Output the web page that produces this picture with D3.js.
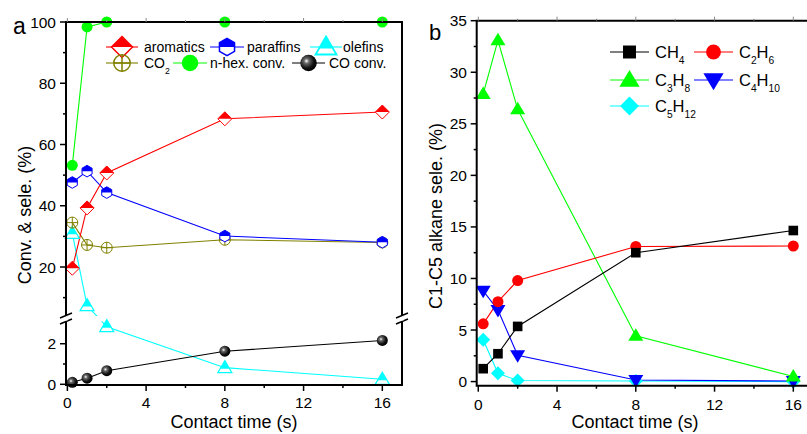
<!DOCTYPE html>
<html>
<head>
<meta charset="utf-8">
<script src="https://cdn.jsdelivr.net/npm/d3@7"></script>
<style>
  body { margin: 0; background: #fff; }
  text { font-family: "Liberation Sans", Arial, sans-serif; fill: #000; }
</style>
</head>
<body>
<div id="chart"></div>
<script>
// contact times (s)
var times = [0.25, 1, 2, 8, 16]

// panel a
var aromatics = [19.6, 39.3, 50.7, 68.4, 70.6]
var paraffins = [47.6, 51.3, 44.3, 30.1, 28.1]
var olefins = [31.0, 7.4, 2.84, 0.82, 0.25]
var co2 = [34.5, 27.2, 26.3, 28.9, 28.0]
var nhexConv = [53.2, 98.4, 100, 100, 100]
var coConv = [0.1, 0.3, 0.67, 1.63, 2.16]

// panel b
var ch4 = [1.25, 2.7, 5.35, 12.5, 14.65]
var c2h6 = [5.6, 7.75, 9.8, 13.1, 13.15]
var c3h8 = [27.9, 33.1, 26.4, 4.45, 0.5]
var c4h10 = [8.8, 6.95, 2.55, 0.15, 0.05]
var c5h12 = [4.05, 0.8, 0.1, 0.05, 0.0]

var xTicks = [0, 4, 8, 12, 16]
var xMinor = [2, 6, 10, 14]
var yUpTicks = [20, 40, 60, 80, 100]
var yUpMinor = [10, 30, 50, 70, 90]
var yLowTicks = [0, 2]
var yLowMinor = [1]
var yBTicks = [0, 5, 10, 15, 20, 25, 30, 35]
var yBMinor = [2.5, 7.5, 12.5, 17.5, 22.5, 27.5, 32.5]

var W = 807, H = 434

var svg = d3.select('#chart').append('svg')
    .attr('width', W)
    .attr('height', H)

var defs = svg.append('defs')
var grad = defs.append('radialGradient').attr('id', 'sphere')
    .attr('cx', '38%').attr('cy', '38%').attr('r', '62%')
grad.append('stop').attr('offset', '0%').attr('stop-color', '#ffffff')
grad.append('stop').attr('offset', '25%').attr('stop-color', '#666666')
grad.append('stop').attr('offset', '70%').attr('stop-color', '#111111')
grad.append('stop').attr('offset', '100%').attr('stop-color', '#000000')

// draws one symbol centered on 0,0 in group g
function marker(g, type, color) {
  var r, c
  if (type == 'diamondHalf') {
    r = 7
    g.append('path').attr('d', 'M0,' + (-r) + 'L' + r + ',0L0,' + r + 'L' + (-r) + ',0Z')
      .attr('fill', '#fff').attr('stroke', color).attr('stroke-width', 1)
    g.append('path').attr('d', 'M0,' + (-r) + 'L' + r + ',0L' + (-r) + ',0Z').attr('fill', color)
  } else if (type == 'hexHalf') {
    r = 5.8; c = r * Math.cos(Math.PI / 6)
    var pts = d3.range(6).map(function(i){ var a = -Math.PI / 2 + i * Math.PI / 3; return [r * Math.cos(a), r * Math.sin(a)] })
    g.append('path').attr('d', 'M' + pts.join('L') + 'Z')
      .attr('fill', '#fff').attr('stroke', color).attr('stroke-width', 1)
    g.append('path').attr('d', 'M0,' + (-r) + 'L' + c + ',' + (-r / 2) + 'L' + c + ',0L' + (-c) + ',0L' + (-c) + ',' + (-r / 2) + 'Z')
      .attr('fill', color)
  } else if (type == 'triHalf') {
    g.append('path').attr('d', 'M0,-7L7,5L-7,5Z')
      .attr('fill', '#fff').attr('stroke', color).attr('stroke-width', 1.2)
    g.append('path').attr('d', 'M0,-7L4.7,1L-4.7,1Z').attr('fill', color)
  } else if (type == 'circlePlus') {
    r = 5.5
    g.append('circle').attr('r', r).attr('fill', 'none').attr('stroke', color)
    g.append('path').attr('d', 'M' + (-r) + ',0H' + r + 'M0,' + (-r) + 'V' + r).attr('stroke', color)
  } else if (type == 'circle') {
    g.append('circle').attr('r', 5.5).attr('fill', color)
  } else if (type == 'sphere') {
    g.append('circle').attr('r', 5.5).attr('fill', 'url(#sphere)')
  } else if (type == 'square') {
    g.append('rect').attr('x', -4.8).attr('y', -4.8).attr('width', 9.6).attr('height', 9.6).attr('fill', color)
  } else if (type == 'triUp') {
    g.append('path').attr('d', 'M0,-7.5L7.5,5L-7.5,5Z').attr('fill', color)
  } else if (type == 'triDown') {
    g.append('path').attr('d', 'M0,7.5L7.5,-5L-7.5,-5Z').attr('fill', color)
  } else if (type == 'diamond') {
    g.append('path').attr('d', 'M0,-7L7,0L0,7L-7,0Z').attr('fill', color)
  }
}

// text with "_12" style subscripts
function richText(t, str, size) {
  var parts = str.split(/_(\d+)/)
  parts.forEach(function(p, i){
    if (p === '') return
    var sub = i % 2 == 1
    t.append('tspan')
      .attr('font-size', sub ? size * 0.62 : size)
      .attr('dy', sub ? 6 : (i > 0 ? -6 : 0))
      .text(p)
  })
}

/* ---------------- panel a ---------------- */
var xa = d3.scaleLinear().domain([-0.07, 17]).range([66, 402])
var yUp = d3.scaleLinear().domain([4, 100]).range([316, 22])
var yLow = d3.scaleLinear().domain([0, 3.1]).range([384.3, 321.4])
function ya(v) { return v >= 3.5 ? yUp(v) : yLow(v) }

var pa = svg.append('g')

defs.append('clipPath').attr('id', 'clipUp')
  .append('rect').attr('x', 66).attr('y', 10).attr('width', 336).attr('height', 306)
defs.append('clipPath').attr('id', 'clipLow')
  .append('rect').attr('x', 66).attr('y', 321.4).attr('width', 336).attr('height', 70)

var seriesA = [
  {data: olefins, color: '#00ffff', type: 'triHalf'},
  {data: coConv, color: '#000', type: 'sphere'},
  {data: co2, color: '#808000', type: 'circlePlus'},
  {data: paraffins, color: '#0000ff', type: 'hexHalf'},
  {data: aromatics, color: '#ff0000', type: 'diamondHalf'},
  {data: nhexConv, color: '#00ff00', type: 'circle'}
]

var lineA = d3.line().x(function(d, i){ return xa(times[i]) }).y(function(d){ return ya(d) })

seriesA.forEach(function(s){
  ['clipUp', 'clipLow'].forEach(function(cp){
    pa.append('path').attr('d', lineA(s.data))
      .attr('fill', 'none').attr('stroke', s.color).attr('stroke-width', 1.1)
      .attr('clip-path', 'url(#' + cp + ')')
  })
})
seriesA.forEach(function(s){
  s.data.forEach(function(d, i){
    marker(pa.append('g').attr('transform', 'translate(' + xa(times[i]) + ',' + ya(d) + ')'), s.type, s.color)
  })
})

// frame with the axis break
var fa = pa.append('g').attr('stroke', '#000').attr('stroke-width', 2).attr('fill', 'none')
fa.append('path').attr('d', 'M66,316V22H402V316')
fa.append('path').attr('d', 'M66,321.4V385H402V321.4')
;[66, 402].forEach(function(x){
  pa.append('path').attr('d', 'M' + (x - 6) + ',' + 318 + 'L' + (x + 6) + ',' + 313 + 'M' + (x - 6) + ',' + 324 + 'L' + (x + 6) + ',' + 319)
    .attr('stroke', '#000').attr('stroke-width', 1.5)
  pa.append('rect').attr('x', x - 1.5).attr('y', 317).attr('width', 3).attr('height', 3.5).attr('fill', '#fff')
})

// ticks a
var ta = pa.append('g').attr('stroke', '#000').attr('stroke-width', 1.5)
yUpTicks.forEach(function(v){ ta.append('line').attr('x1', 60).attr('x2', 66).attr('y1', yUp(v)).attr('y2', yUp(v)) })
yUpMinor.forEach(function(v){ ta.append('line').attr('x1', 63).attr('x2', 66).attr('y1', yUp(v)).attr('y2', yUp(v)) })
yLowTicks.forEach(function(v){ ta.append('line').attr('x1', 60).attr('x2', 66).attr('y1', yLow(v)).attr('y2', yLow(v)) })
yLowMinor.forEach(function(v){ ta.append('line').attr('x1', 63).attr('x2', 66).attr('y1', yLow(v)).attr('y2', yLow(v)) })
xTicks.forEach(function(v){
  ta.append('line').attr('x1', xa(v)).attr('x2', xa(v)).attr('y1', 385).attr('y2', 391)
  ta.append('line').attr('x1', xa(v)).attr('x2', xa(v)).attr('y1', 22).attr('y2', 18).attr('stroke', '#888').attr('stroke-width', 1)
})
xMinor.forEach(function(v){
  ta.append('line').attr('x1', xa(v)).attr('x2', xa(v)).attr('y1', 385).attr('y2', 388)
  ta.append('line').attr('x1', xa(v)).attr('x2', xa(v)).attr('y1', 22).attr('y2', 20).attr('stroke', '#888').attr('stroke-width', 1)
})

pa.selectAll('.yl').data(yUpTicks).enter().append('text')
    .attr('x', 56).attr('y', function(d){ return yUp(d) + 5.5 })
    .attr('text-anchor', 'end').attr('font-size', '15.5px').text(function(d){ return d })
pa.selectAll('.yl2').data(yLowTicks).enter().append('text')
    .attr('x', 56).attr('y', function(d){ return yLow(d) + 5.5 })
    .attr('text-anchor', 'end').attr('font-size', '15.5px').text(function(d){ return d })
pa.selectAll('.xl').data(xTicks).enter().append('text')
    .attr('x', function(d){ return xa(d) }).attr('y', 408)
    .attr('text-anchor', 'middle').attr('font-size', '15.5px').text(function(d){ return d })

pa.append('text').attr('x', 234).attr('y', 428).attr('text-anchor', 'middle')
    .attr('font-size', '18px').text('Contact time (s)')
pa.append('text').attr('transform', 'translate(31,215) rotate(-90)').attr('text-anchor', 'middle')
    .attr('font-size', '18px').text('Conv. & sele. (%)')
pa.append('text').attr('x', 13).attr('y', 34).attr('font-size', '23px').text('a')

// legend a
var legA = [
  {label: 'aromatics', color: '#ff0000', type: 'diamondHalf', x0: 106, x1: 138, tx: 144, y: 47},
  {label: 'paraffins', color: '#0000ff', type: 'hexHalf', x0: 210, x1: 244, tx: 247, y: 47},
  {label: 'olefins', color: '#00ffff', type: 'triHalf', x0: 310, x1: 342, tx: 343, y: 47},
  {label: 'CO_2', color: '#808000', type: 'circlePlus', x0: 106, x1: 138, tx: 144, y: 63},
  {label: 'n-hex. conv.', color: '#00ff00', type: 'circle', x0: 173, x1: 207, tx: 210, y: 63},
  {label: 'CO conv.', color: '#000', type: 'sphere', x0: 292, x1: 325, tx: 329, y: 63}
]
legA.forEach(function(l){
  pa.append('line').attr('x1', l.x0).attr('x2', l.x1).attr('y1', l.y).attr('y2', l.y)
    .attr('stroke', l.color).attr('stroke-width', 1.1)
  marker(pa.append('g').attr('transform', 'translate(' + (l.x0 + l.x1) / 2 + ',' + l.y + ') scale(1.5)'), l.type, l.color)
  richText(pa.append('text').attr('x', l.tx).attr('y', l.y + 5), l.label, 14)
})

/* ---------------- panel b ---------------- */
var xb = d3.scaleLinear().domain([-0.08, 17]).range([476.7, 813])
var yb = d3.scaleLinear().domain([-0.4, 35]).range([385.7, 20.7])
var pb = svg.append('g')

var seriesB = [
  {data: c5h12, color: '#00ffff', type: 'diamond'},
  {data: c4h10, color: '#0000ff', type: 'triDown'},
  {data: c3h8, color: '#00ff00', type: 'triUp'},
  {data: c2h6, color: '#ff0000', type: 'circle'},
  {data: ch4, color: '#000', type: 'square'}
]
var lineB = d3.line().x(function(d, i){ return xb(times[i]) }).y(function(d){ return yb(d) })
seriesB.forEach(function(s){
  pb.append('path').attr('d', lineB(s.data))
    .attr('fill', 'none').attr('stroke', s.color).attr('stroke-width', 1.1)
})
seriesB.forEach(function(s){
  s.data.forEach(function(d, i){
    marker(pb.append('g').attr('transform', 'translate(' + xb(times[i]) + ',' + yb(d) + ')'), s.type, s.color)
  })
})

pb.append('path').attr('d', 'M815,20.7H476.7V385.7H815')
    .attr('stroke', '#000').attr('stroke-width', 2).attr('fill', 'none')

var tb = pb.append('g').attr('stroke', '#000').attr('stroke-width', 1.5)
yBTicks.forEach(function(v){ tb.append('line').attr('x1', 470.7).attr('x2', 476.7).attr('y1', yb(v)).attr('y2', yb(v)) })
yBMinor.forEach(function(v){ tb.append('line').attr('x1', 473.7).attr('x2', 476.7).attr('y1', yb(v)).attr('y2', yb(v)) })
xTicks.forEach(function(v){
  tb.append('line').attr('x1', xb(v)).attr('x2', xb(v)).attr('y1', 385.7).attr('y2', 391.7)
  tb.append('line').attr('x1', xb(v)).attr('x2', xb(v)).attr('y1', 20.7).attr('y2', 16.7).attr('stroke', '#888').attr('stroke-width', 1)
})
xMinor.forEach(function(v){
  tb.append('line').attr('x1', xb(v)).attr('x2', xb(v)).attr('y1', 385.7).attr('y2', 388.7)
  tb.append('line').attr('x1', xb(v)).attr('x2', xb(v)).attr('y1', 20.7).attr('y2', 18.7).attr('stroke', '#888').attr('stroke-width', 1)
})

pb.selectAll('.yl').data(yBTicks).enter().append('text')
    .attr('x', 467).attr('y', function(d){ return yb(d) + 5.5 })
    .attr('text-anchor', 'end').attr('font-size', '15.5px').text(function(d){ return d })
pb.selectAll('.xl').data(xTicks).enter().append('text')
    .attr('x', function(d){ return xb(d) }).attr('y', 410)
    .attr('text-anchor', 'middle').attr('font-size', '15.5px').text(function(d){ return d })

pb.append('text').attr('x', 635).attr('y', 428).attr('text-anchor', 'middle')
    .attr('font-size', '18px').text('Contact time (s)')
pb.append('text').attr('transform', 'translate(442,216) rotate(-90)').attr('text-anchor', 'middle')
    .attr('font-size', '18px').text('C1-C5 alkane sele. (%)')
pb.append('text').attr('x', 429).attr('y', 40).attr('font-size', '22px').text('b')

var legB = [
  {label: 'CH_4', color: '#000', type: 'square', x0: 610, x1: 649, tx: 655, y: 52},
  {label: 'C_2H_6', color: '#ff0000', type: 'circle', x0: 694, x1: 733, tx: 739, y: 52},
  {label: 'C_3H_8', color: '#00ff00', type: 'triUp', x0: 610, x1: 649, tx: 655, y: 80},
  {label: 'C_4H_10', color: '#0000ff', type: 'triDown', x0: 694, x1: 733, tx: 739, y: 80},
  {label: 'C_5H_12', color: '#00ffff', type: 'diamond', x0: 610, x1: 649, tx: 655, y: 106}
]
legB.forEach(function(l){
  pb.append('line').attr('x1', l.x0).attr('x2', l.x1).attr('y1', l.y).attr('y2', l.y)
    .attr('stroke', l.color).attr('stroke-width', 1.1)
  marker(pb.append('g').attr('transform', 'translate(' + (l.x0 + l.x1) / 2 + ',' + l.y + ') scale(1.35)'), l.type, l.color)
  richText(pb.append('text').attr('x', l.tx).attr('y', l.y + 6), l.label, 16.5)
})
</script>
</body>
</html>
